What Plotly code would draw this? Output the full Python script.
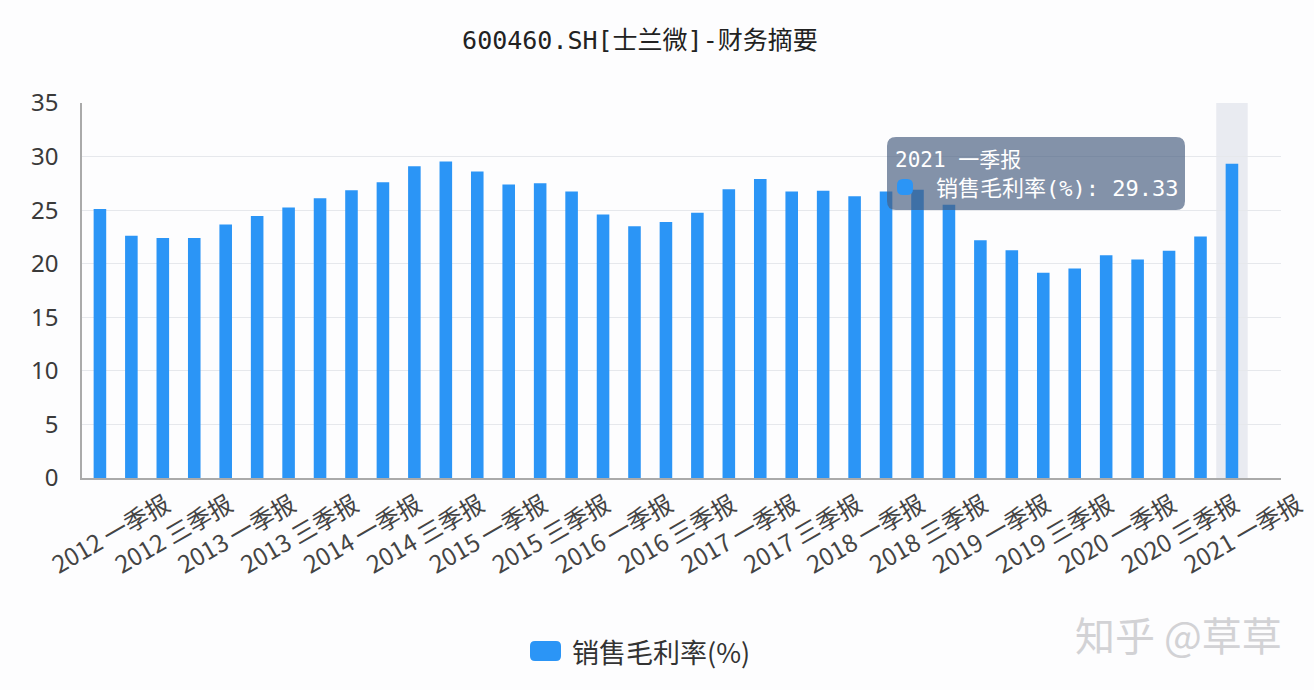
import plotly.graph_objects as go

years = [2012, 2013, 2014, 2015, 2016, 2017, 2018, 2019, 2020]
periods = ["一季报", "中报", "三季报", "年报"]
categories = [f"{y} {p}" for y in years for p in periods] + ["2021 一季报"]

gross_margin = [
    25.1, 22.6, 22.4, 22.4,
    23.65, 24.45, 25.25, 26.1,
    26.85, 27.6, 29.1, 29.55,
    28.6, 27.4, 27.5, 26.75,
    24.6, 23.5, 23.9, 24.75,
    26.95, 27.9, 26.75, 26.8,
    26.3, 26.75, 26.9, 25.5,
    22.2, 21.25, 19.15, 19.55,
    20.8, 20.4, 21.2, 22.55,
    29.33,
]

tick_labels = categories[::2]
y_ticks = [0, 5, 10, 15, 20, 25, 30, 35]

series_name = "销售毛利率(%)"
title_text = "600460.SH[士兰微]-财务摘要"
watermark = "知乎 @草草"

BLUE = "#2b95f6"
W, H = 1314, 690
L, R, T, B = 82, 33, 103, 212
PW, PH = W - L - R, H - T - B


def px_x(x):
    return (x - L) / PW


def px_y(y):
    return (H - B - y) / PH


def rounded_rect(x0, y0, x1, y1, r):
    # pixel coords -> paper path
    rx = r / PW
    ry = r / PH
    a0, a1 = px_x(x0), px_x(x1)
    b0, b1 = px_y(y1), px_y(y0)  # bottom, top
    return (
        f"M{a0+rx},{b0} L{a1-rx},{b0} Q{a1},{b0} {a1},{b0+ry} "
        f"L{a1},{b1-ry} Q{a1},{b1} {a1-rx},{b1} L{a0+rx},{b1} "
        f"Q{a0},{b1} {a0},{b1-ry} L{a0},{b0+ry} Q{a0},{b0} {a0+rx},{b0} Z"
    )


fig = go.Figure()
fig.add_trace(go.Bar(
    x=categories, y=gross_margin, name=series_name,
    marker=dict(color=BLUE, line=dict(width=0)),
    width=0.4, showlegend=False,
))

last = len(categories) - 1
shapes = [
    # hover highlight band on the last category
    dict(type="rect", xref="x", yref="paper", x0=last - 0.5, x1=last + 0.5,
         y0=0, y1=1, fillcolor="#e9ebf1", line=dict(width=0), layer="below"),
    # tooltip box
    dict(type="path", xref="paper", yref="paper",
         path=rounded_rect(887, 137, 1185, 210, 9),
         fillcolor="rgba(72,95,128,0.68)", line=dict(width=0), layer="above"),
    # tooltip marker
    dict(type="path", xref="paper", yref="paper",
         path=rounded_rect(897, 179, 913, 195, 6),
         fillcolor=BLUE, line=dict(width=0), layer="above"),
    # legend icon
    dict(type="path", xref="paper", yref="paper",
         path=rounded_rect(530, 641, 561, 661, 5),
         fillcolor=BLUE, line=dict(width=0), layer="above"),
]

mono = "DejaVu Sans Mono, Noto Sans CJK SC"
annotations = [
    dict(text=categories[last],
         xref="paper", yref="paper", x=px_x(893), y=px_y(160),
         xanchor="left", yanchor="middle", showarrow=False,
         font=dict(family=mono, size=21, color="white")),
    dict(text=f"{series_name}: {gross_margin[last]:.2f}",
         xref="paper", yref="paper", x=px_x(934), y=px_y(188),
         xanchor="left", yanchor="middle", showarrow=False,
         font=dict(family=mono, size=22, color="white")),
    dict(text=series_name, xref="paper", yref="paper",
         x=px_x(570), y=px_y(651), xanchor="left", yanchor="middle",
         showarrow=False,
         font=dict(family="Noto Sans CJK SC", size=27, color="#333333")),
    dict(text=watermark, xref="paper", yref="paper",
         x=px_x(1178), y=px_y(634), xanchor="center", yanchor="middle",
         showarrow=False,
         font=dict(family="Noto Sans CJK SC", size=40, color="#d2d2d5")),
]

fig.update_layout(
    width=W, height=H,
    margin=dict(l=L, r=R, t=T, b=B, autoexpand=False),
    paper_bgcolor="#fdfdfe", plot_bgcolor="#fdfdfe",
    title=dict(text=title_text, x=0.487, xanchor="center", y=1 - 40 / H,
               yanchor="middle",
               font=dict(family=mono, size=25, color="#222222")),
    bargap=0.6,
    shapes=shapes, annotations=annotations,
    font=dict(family="Noto Sans CJK SC", color="#333333"),
)
fig.update_xaxes(
    type="category", tickmode="array", tickvals=tick_labels, ticktext=tick_labels,
    tickangle=-30, tickfont=dict(family="Noto Sans CJK SC", size=24, color="#444444"),
    ticklabelshift=66, ticklabelstandoff=2,
    showline=True, linecolor="#aaaaaa", linewidth=1.5, ticks="",
    showgrid=False, range=[-0.57, last + 1.56],
)
fig.update_yaxes(
    range=[0, 35], tickmode="array", tickvals=y_ticks,
    tickfont=dict(family="Noto Sans", size=24, color="#3a3a3a"),
    showline=True, linecolor="#aaaaaa", linewidth=1.5,
    gridcolor="#e6e8ec", gridwidth=1, zeroline=False, ticks="", ticklabelstandoff=17,
)

fig.write_html("out.html", config={"displayModeBar": False},
               post_script="document.body.style.margin='0';")
